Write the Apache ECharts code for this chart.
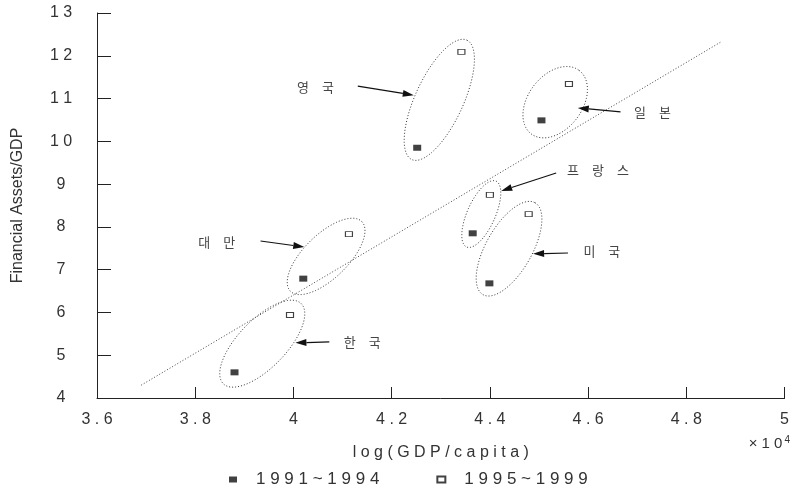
<!DOCTYPE html>
<html>
<head>
<meta charset="utf-8">
<script src="https://cdn.jsdelivr.net/npm/echarts@6/dist/echarts.min.js"></script>
<style>html,body{margin:0;padding:0;background:#fff}#chart{width:792px;height:491px}</style>
</head>
<body>
<div id="chart"></div>
<script>
// ---- data ----
const periods = ['1991~1994', '1995~1999'];
const countries = ['한국', '대만', '영국', '일본', '프랑스', '미국'];
const gdpEarly = [3.880, 4.020, 4.252, 4.505, 4.365, 4.399];
const assetsEarly = [4.60, 6.79, 9.85, 10.49, 7.85, 6.68];
const gdpLate = [3.993, 4.113, 4.342, 4.561, 4.400, 4.479];
const assetsLate = [5.94, 7.83, 12.09, 11.34, 8.75, 8.30];
const fitX = [3.69, 4.87];
const fitY = [4.30, 12.32];
const xTicks = [3.6, 3.8, 4, 4.2, 4.4, 4.6, 4.8, 5];
const yTicks = [4, 5, 6, 7, 8, 9, 10, 11, 12, 13];
// annotation anchors (data units): label position, arrow start, arrow tip
const labelX = [4.140, 3.844, 4.045, 4.731, 4.620, 4.628];
const labelY = [5.31, 7.65, 11.27, 10.69, 9.33, 7.44];
const arrowFromX = [4.073, 3.933, 4.131, 4.666, 4.535, 4.559];
const arrowFromY = [5.31, 7.67, 11.29, 10.69, 9.26, 7.39];
const arrowToX = [4.004, 4.022, 4.245, 4.579, 4.423, 4.488];
const arrowToY = [5.29, 7.53, 11.08, 10.78, 8.84, 7.37];

// ---- styles (pixels) ----
const ellipsePad = [16, 18, 13, 17, 15, 13];
const ellipseMinor = [24, 22, 24, 27, 14, 23];

const spaced = s => String(s).split('').join(' ');
const spacedKo = s => String(s).split('').join('\u2003');
const fmtTick = v => spaced(String(Number(v.toFixed(2))));
const ink = '#333';

const chart = echarts.init(document.getElementById('chart'));

const ellipseData = countries.map((c, i) => [gdpEarly[i], assetsEarly[i], gdpLate[i], assetsLate[i], i]);
const annoData = countries.map((c, i) => [labelX[i], labelY[i], arrowFromX[i], arrowFromY[i], arrowToX[i], arrowToY[i], i]);

chart.setOption({
  animation: false,
  backgroundColor: '#fff',
  grid: { left: 97, right: 4, top: 13, bottom: 93, containLabel: false },
  xAxis: {
    type: 'value', min: xTicks[0], max: xTicks[xTicks.length - 1], interval: 0.2,
    name: spaced('log(GDP/capita)'), nameLocation: 'middle', nameGap: 47,
    nameTextStyle: { fontFamily: 'Liberation Sans', fontSize: 16, color: ink },
    axisLine: { lineStyle: { color: '#222', width: 1 } },
    axisTick: { inside: true, length: 11, lineStyle: { color: '#222' } },
    axisLabel: { formatter: fmtTick, margin: 14, fontFamily: 'Liberation Sans', fontSize: 16, color: ink },
    splitLine: { show: false }
  },
  yAxis: {
    type: 'value', min: yTicks[0], max: yTicks[yTicks.length - 1], interval: 1,
    name: 'Financial Assets/GDP', nameLocation: 'middle', nameGap: 71,
    nameTextStyle: { fontFamily: 'Liberation Sans', fontSize: 16, color: ink },
    axisLine: { lineStyle: { color: '#222', width: 1 } },
    axisTick: { inside: true, length: 14, lineStyle: { color: '#222' } },
    axisLabel: { formatter: fmtTick, margin: 36, align: 'center', fontFamily: 'Liberation Sans', fontSize: 16, color: ink },
    splitLine: { show: false }
  },
  legend: {
    data: periods, left: 224, top: 466, icon: 'rect', itemWidth: 8, itemHeight: 6, itemGap: 57,
    formatter: n => spaced(n),
    textStyle: { fontFamily: 'Liberation Sans', fontSize: 17, color: ink, padding: [0, 0, 0, 14] }
  },
  graphic: [{
    type: 'text', right: 2, top: 435,
    style: { text: '× 1 0{s|4}', rich: { s: { fontSize: 10, verticalAlign: 'top', padding: [0, 0, 8, 2] } },
      font: '15px "Liberation Sans"', fill: ink }
  }],
  series: [
    {
      type: 'line', data: fitX.map((x, i) => [x, fitY[i]]), symbol: 'none', silent: true,
      lineStyle: { color: '#444', width: 1, type: [1, 2] }, z: 1
    },
    {
      type: 'custom', silent: true, z: 2,
      encode: { x: [0, 2], y: [1, 3] },
      data: ellipseData,
      renderItem: (params, api) => {
        const i = api.value(4);
        const p1 = api.coord([api.value(0), api.value(1)]);
        const p2 = api.coord([api.value(2), api.value(3)]);
        const cx = (p1[0] + p2[0]) / 2, cy = (p1[1] + p2[1]) / 2;
        const dx = p2[0] - p1[0], dy = p2[1] - p1[1];
        const ang = Math.atan2(dy, dx);
        const a = Math.hypot(dx, dy) / 2 + ellipsePad[i];
        const b = ellipseMinor[i];
        const pts = [];
        for (let k = 0; k < 120; k++) {
          const t = k / 120 * Math.PI * 2;
          const ex = a * Math.cos(t), ey = b * Math.sin(t);
          pts.push([cx + ex * Math.cos(ang) - ey * Math.sin(ang), cy + ex * Math.sin(ang) + ey * Math.cos(ang)]);
        }
        return { type: 'polygon', shape: { points: pts }, style: { fill: 'none', stroke: '#333', lineWidth: 1, lineDash: [1, 2] } };
      }
    },
    {
      type: 'custom', silent: true, z: 3,
      encode: { x: [0, 2, 4], y: [1, 3, 5] },
      data: annoData,
      renderItem: (params, api) => {
        const i = api.value(6);
        const t = api.coord([api.value(0), api.value(1)]);
        const f = api.coord([api.value(2), api.value(3)]);
        const e = api.coord([api.value(4), api.value(5)]);
        const ang = Math.atan2(e[1] - f[1], e[0] - f[0]);
        const L = 11, W = 3.5;
        const bx = e[0] - L * Math.cos(ang), by = e[1] - L * Math.sin(ang);
        const head = [e, [bx - W * Math.sin(ang), by + W * Math.cos(ang)], [bx + W * Math.sin(ang), by - W * Math.cos(ang)]];
        return {
          type: 'group', children: [
            { type: 'line', shape: { x1: f[0], y1: f[1], x2: bx, y2: by }, style: { stroke: '#111', lineWidth: 1.2 } },
            { type: 'polygon', shape: { points: head }, style: { fill: '#111' } },
            { type: 'text', x: t[0], y: t[1], style: { text: spacedKo(countries[i]), align: 'center', verticalAlign: 'middle',
              font: '13px "Noto Sans CJK KR"', fill: '#444' } }
          ]
        };
      }
    },
    {
      name: periods[0], type: 'scatter', z: 4,
      data: gdpEarly.map((x, i) => [x, assetsEarly[i]]),
      symbol: 'rect', symbolSize: [8, 6],
      itemStyle: { color: '#111', borderColor: '#111', borderWidth: 0 }
    },
    {
      name: periods[1], type: 'scatter', z: 4,
      data: gdpLate.map((x, i) => [x, assetsLate[i]]),
      symbol: 'rect', symbolSize: [7, 5],
      itemStyle: { color: '#fff', borderColor: '#111', borderWidth: 1 }
    }
  ]
});
</script>
</body>
</html>
